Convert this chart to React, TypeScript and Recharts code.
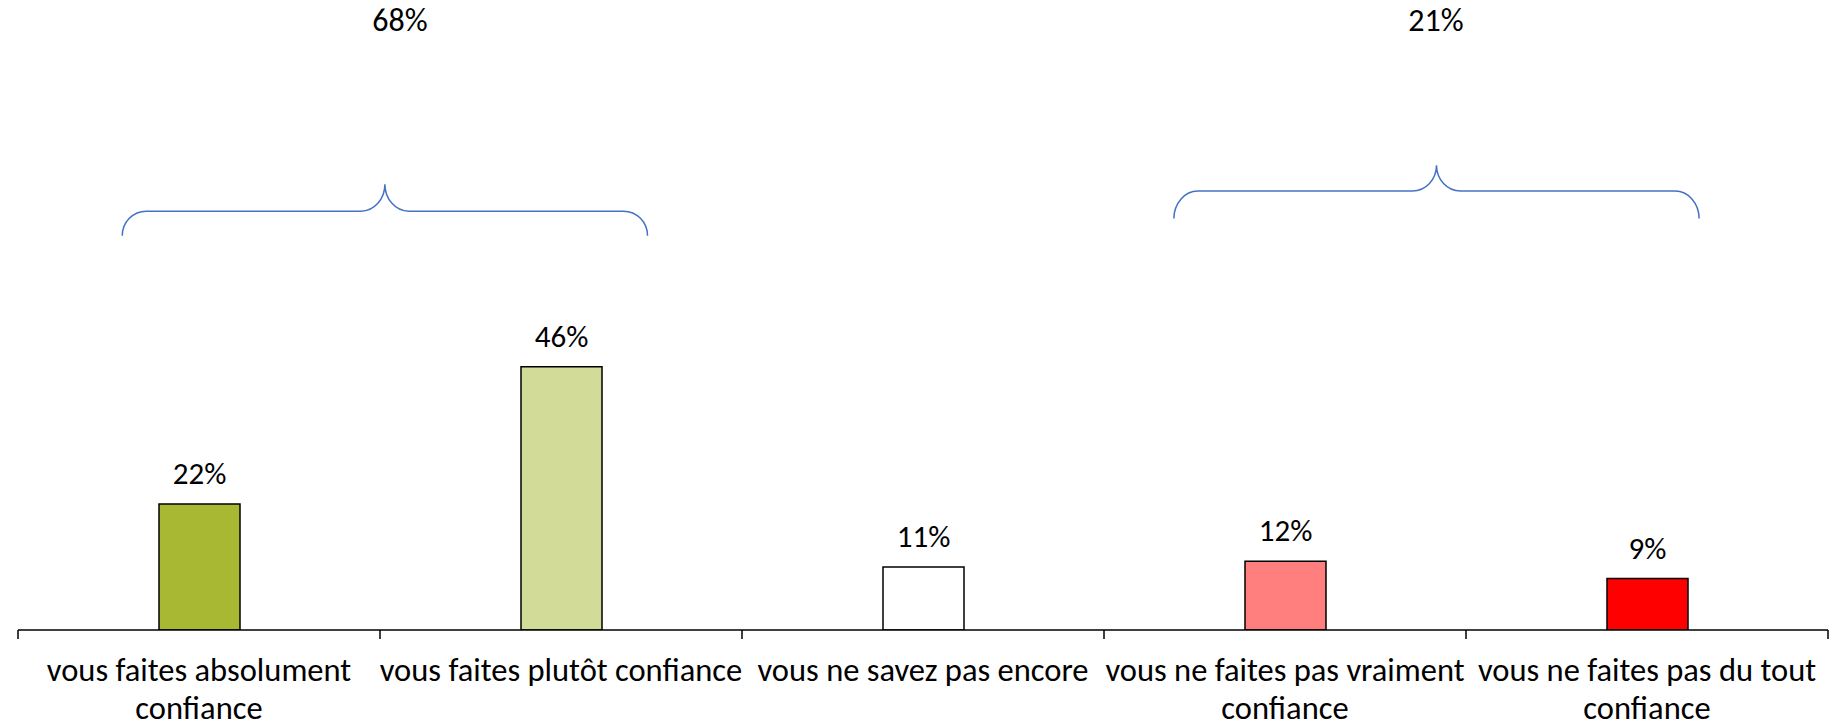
import React from "react";
import { BarChart, Bar, XAxis, YAxis, Cell, LabelList, ReferenceArea } from "recharts";

const categories = [
  "vous faites absolument\nconfiance",
  "vous faites plutôt confiance",
  "vous ne savez pas encore",
  "vous ne faites pas vraiment\nconfiance",
  "vous ne faites pas du tout\nconfiance",
];
const shares = [22, 46, 11, 12, 9];

// group braces: span in category slots, heights in % units
const groupLabels = ["68%", "21%"];
const groupFrom = [0.288, 3.193];
const groupTo = [1.739, 4.644];
const groupLabelAt = [1.055, 3.917];
const groupEnd = [68.9, 71.9];
const groupLevel = [73.2, 76.7];
const groupPeak = [77.9, 81.2];
const groupLabelLevel = [104.6, 104.6];

const barColors = ["#A9B832", "#D3DB99", "#FFFFFF", "#FF7F7F", "#FF0000"];
const FONT = "Calibri, Carlito, Lato, sans-serif";

const data = categories.map((name, i) => ({ name, value: shares[i] }));

const braces = groupLabels.map((label, i) => ({
  label,
  from: groupFrom[i],
  to: groupTo[i],
  labelAt: groupLabelAt[i],
  end: groupEnd[i],
  level: groupLevel[i],
  peak: groupPeak[i],
  labelLevel: groupLabelLevel[i],
}));

const CategoryTick = (props: any) => {
  const { x, y, payload, index, width } = props;
  const half = payload?.offset || width / (categories.length * 2);
  const lines = String(payload.value).split("\n");
  return (
    <g>
      <line x1={x - half} x2={x - half} y1={y} y2={y + 9} stroke="#000" strokeWidth={1.5} />
      {index === categories.length - 1 && (
        <line x1={x + half} x2={x + half} y1={y} y2={y + 9} stroke="#000" strokeWidth={1.5} />
      )}
      {lines.map((line, i) => (
        <text
          key={i}
          x={x}
          y={y + 51 + i * 37.5}
          textAnchor="middle"
          fontFamily={FONT}
          fontSize={32.5}
          fill="#000"
        >
          {line}
        </text>
      ))}
    </g>
  );
};

const makeBrace = (b: (typeof braces)[number]) => (props: any) => {
  const { x, y, width, height } = props;
  const span = b.labelLevel - b.end;
  const py = (v: number) => y + (height * (b.labelLevel - v)) / span;
  const px = (v: number) => x + (width * v) / categories.length;
  const x0 = px(b.from);
  const x1 = px(b.to);
  const xc = (x0 + x1) / 2;
  const yEnd = py(b.end);
  const yLev = py(b.level);
  const yPeak = py(b.peak);
  const rx = 24;
  const r1 = yEnd - yLev;
  const r2 = yLev - yPeak;
  const d =
    `M${x0},${yEnd} A${rx},${r1} 0 0 1 ${x0 + rx},${yLev} ` +
    `L${xc - rx},${yLev} A${rx},${r2} 0 0 0 ${xc},${yPeak} ` +
    `A${rx},${r2} 0 0 0 ${xc + rx},${yLev} ` +
    `L${x1 - rx},${yLev} A${rx},${r1} 0 0 1 ${x1},${yEnd}`;
  return (
    <g>
      <path d={d} fill="none" stroke="#4472C4" strokeWidth={1.5} />
      <text x={px(b.labelAt)} y={py(b.labelLevel)} textAnchor="middle" fontFamily={FONT} fontSize={32} fill="#000">
        {b.label}
      </text>
    </g>
  );
};

export default function App() {
  return (
    <div style={{ position: "absolute", left: 0, top: 0, background: "#fff" }}>
      <BarChart width={1842} height={726} data={data} margin={{ top: 12, right: 14, bottom: 0, left: 18 }}>
        <XAxis
          dataKey="name"
          height={96}
          interval={0}
          tickLine={false}
          tickSize={0}
          tickMargin={0}
          axisLine={{ stroke: "#000", strokeWidth: 1.5 }}
          tick={<CategoryTick />}
        />
        <YAxis hide domain={[0, 108]} allowDataOverflow />
        <Bar dataKey="value" barSize={81} stroke="#000" strokeWidth={1.5} isAnimationActive={false}>
          {data.map((d, i) => (
            <Cell key={d.name} fill={barColors[i]} />
          ))}
          <LabelList
            dataKey="value"
            content={(p: any) => (
              <text
                x={p.x + p.width / 2}
                y={p.y - 20}
                textAnchor="middle"
                fontFamily={FONT}
                fontSize={31}
                fill="#000"
              >
                {`${p.value}%`}
              </text>
            )}
          />
        </Bar>
        {braces.map((b) => (
          <ReferenceArea key={b.label} y1={b.end} y2={b.labelLevel} shape={makeBrace(b)} />
        ))}
      </BarChart>
    </div>
  );
}
